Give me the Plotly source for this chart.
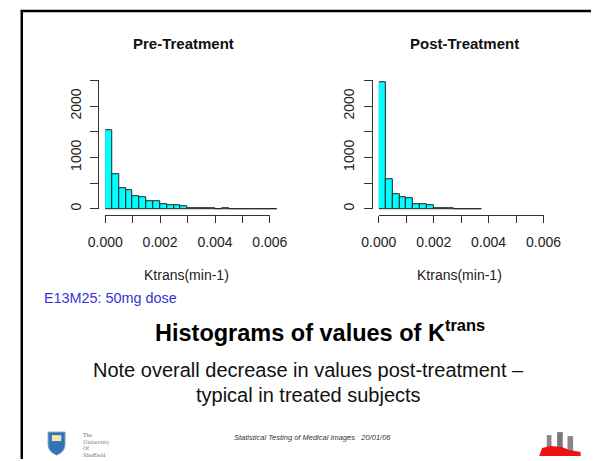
import plotly.graph_objects as go

# ---------------- data ----------------
BIN_WIDTH = 0.00025
pre_counts = [1530, 678, 397, 352, 248, 221, 156, 150, 91, 72, 65, 52,
              15, 12, 3, 2, 0, 15, 0, 0, 0, 0, 0, 0, 0]
post_counts = [2456, 567, 287, 221, 202, 91, 91, 72, 4, 2, 15, 0, 0, 0, 0]
panel_titles = ["Pre-Treatment", "Post-Treatment"]
x_label = "Ktrans(min-1)"
x_tick_vals = [0.000, 0.002, 0.004, 0.006]
x_tick_text = ["0.000", "0.002", "0.004", "0.006"]
x_minor_step = 0.001
y_tick_vals = [0, 1000, 2000]
y_tick_text = ["0", "1000", "2000"]
y_minor_step = 500
X_MAX, Y_MAX = 0.006, 2500
dose_note = "E13M25: 50mg dose"
main_title = "Histograms of values of K<sup>trans</sup>"
note_lines = ["Note overall decrease in values post-treatment –", "typical in treated subjects"]
footer = "Statistical Testing of Medical Images\u00a0\u00a0\u00a020/01/06"

# ---------------- geometry (pixels) ----------------
W, H = 609, 461
FONT = "Liberation Sans, Arial, Helvetica, sans-serif"
AX_COL = "#333333"


def px(x):
    return x / W


def py(y):
    return 1 - y / H


X_PER_UNIT = 29.17 / 0.001     # px per Ktrans unit
Y_PER_UNIT = 129.0 / 2500      # px per count
Y0_PX = 209.7                  # pixel row of count 0
X_AXIS_PX = 215.6              # pixel row of the offset x axis line
X_EPS, Y_EPS = 0.0000001, 0.5
panels = [
    dict(counts=pre_counts, x0=92.7, yaxis_px=85.5, title=panel_titles[0], tx=120, tanchor="left", lx=179),
    dict(counts=post_counts, x0=383.5, yaxis_px=376.2, title=panel_titles[1], tx=535, tanchor="right", lx=469),
]

fig = go.Figure()
layout = dict(
    width=W, height=H, margin=dict(l=0, r=0, t=0, b=0),
    paper_bgcolor="white", plot_bgcolor="rgba(0,0,0,0)",
    showlegend=False, font=dict(family=FONT, color="#222222"),
    bargap=0,
)
annotations = []
DATA_X_MAX = 0.0065
DATA_Y_MIN, DATA_Y_MAX = -30, 2600

for i, p in enumerate(panels):
    n = len(p["counts"])
    centers = [BIN_WIDTH * (k + 0.5) for k in range(n)]
    a_data, a_disp = 2 * i + 1, 2 * i + 2
    xd = "x" if a_data == 1 else f"x{a_data}"
    yd = "y" if a_data == 1 else f"y{a_data}"
    xs, ys = f"x{a_disp}", f"y{a_disp}"
    fig.add_trace(go.Bar(
        x=centers, y=p["counts"], width=[BIN_WIDTH] * n,
        marker=dict(color="#00FFFF", line=dict(color="#222222", width=1)),
        xaxis=xd, yaxis=yd, hoverinfo="x+y",
    ))
    # empty trace so the R-style display axes are drawn
    fig.add_trace(go.Scatter(x=[], y=[], xaxis=xs, yaxis=ys, mode="markers",
                             hoverinfo="skip", showlegend=False))
    kx = "xaxis" if a_data == 1 else f"xaxis{a_data}"
    ky = "yaxis" if a_data == 1 else f"yaxis{a_data}"
    layout[kx] = dict(
        domain=[px(p["x0"]), px(p["x0"] + DATA_X_MAX * X_PER_UNIT)],
        range=[0, DATA_X_MAX], visible=False, anchor=yd, fixedrange=True,
    )
    layout[ky] = dict(
        domain=[py(Y0_PX - DATA_Y_MIN * Y_PER_UNIT), py(Y0_PX - DATA_Y_MAX * Y_PER_UNIT)],
        range=[DATA_Y_MIN, DATA_Y_MAX], visible=False, anchor=xd, fixedrange=True,
    )
    layout[f"xaxis{a_disp}"] = dict(
        domain=[px(p["x0"]), px(p["x0"] + (X_MAX + X_EPS) * X_PER_UNIT)],
        range=[0, X_MAX + X_EPS], anchor="free", position=py(X_AXIS_PX),
        showline=True, linecolor=AX_COL, linewidth=1, showgrid=False, zeroline=False,
        ticks="outside", ticklen=7, tickcolor=AX_COL, tickwidth=1,
        tickvals=x_tick_vals, ticktext=x_tick_text,
        minor=dict(ticks="outside", ticklen=7, tickcolor=AX_COL, tickwidth=1,
                   tick0=0, dtick=x_minor_step, showgrid=False),
        tickfont=dict(family=FONT, size=14, color="#222222"), ticklabelstandoff=8,
        fixedrange=True,
    )
    layout[f"yaxis{a_disp}"] = dict(
        domain=[py(Y0_PX), py(Y0_PX - (Y_MAX + Y_EPS) * Y_PER_UNIT)],
        range=[0, Y_MAX + Y_EPS], anchor="free", position=px(p["yaxis_px"]),
        showline=True, linecolor=AX_COL, linewidth=1, showgrid=False, zeroline=False,
        ticks="outside", ticklen=8, tickcolor=AX_COL, tickwidth=1,
        tickvals=y_tick_vals, ticktext=y_tick_text, tickangle=-90,
        minor=dict(ticks="outside", ticklen=8, tickcolor=AX_COL, tickwidth=1,
                   tick0=0, dtick=y_minor_step, showgrid=False),
        tickfont=dict(family=FONT, size=14, color="#222222"), ticklabelstandoff=4,
        fixedrange=True,
    )
    annotations.append(dict(
        text=f"<b>{p['title']}</b>", x=px(p["tx"]), y=py(44), xref="paper", yref="paper",
        xanchor=p["tanchor"], yanchor="middle", showarrow=False,
        font=dict(family=FONT, size=15, color="#111111"),
    ))
    annotations.append(dict(
        text=x_label, x=px(p["lx"]), y=py(276), xref="paper", yref="paper",
        xanchor="center", yanchor="middle", showarrow=False,
        font=dict(family=FONT, size=14, color="#222222"),
    ))

annotations += [
    dict(text=dose_note, x=px(25), y=py(299), xref="paper", yref="paper",
         xanchor="left", yanchor="middle", showarrow=False,
         font=dict(family=FONT, size=14.4, color="#3535D8")),
    dict(text=f"<b>{main_title}</b>", x=px(143), y=py(332), xref="paper", yref="paper",
         xanchor="left", yanchor="middle", showarrow=False,
         font=dict(family=FONT, size=23.5, color="#000000")),
    dict(text=note_lines[0], x=px(309), y=py(372), xref="paper", yref="paper",
         xanchor="center", yanchor="middle", showarrow=False,
         font=dict(family=FONT, size=20, color="#111111")),
    dict(text=note_lines[1], x=px(309), y=py(397), xref="paper", yref="paper",
         xanchor="center", yanchor="middle", showarrow=False,
         font=dict(family=FONT, size=20, color="#111111")),
    dict(text=f"<i>{footer}</i>", x=px(313), y=py(439), xref="paper", yref="paper",
         xanchor="center", yanchor="middle", showarrow=False,
         font=dict(family=FONT, size=7.5, color="#333333")),
    dict(text="The<br>University<br>Of<br>Sheffield", x=px(67), y=py(447), xref="paper", yref="paper",
         xanchor="left", yanchor="middle", showarrow=False, align="left",
         font=dict(family="DejaVu Serif, serif", size=5, color="#666677")),
]

shapes = [
    # slide frame (left and top edges)
    dict(type="path", xref="paper", yref="paper",
         path=f"M {px(4)} 0 L {px(4)} {py(11)} L 1 {py(11)}",
         line=dict(color="#000000", width=2.5)),
    # Sheffield shield
    dict(type="path", xref="paper", yref="paper",
         path=f"M {px(32)} {py(434)} L {px(50)} {py(434)} L {px(50)} {py(446)} "
              f"Q {px(50)} {py(454)} {px(41)} {py(457)} Q {px(32)} {py(454)} {px(32)} {py(446)} Z",
         fillcolor="#2f74b8", line=dict(color="#7aa0c8", width=1)),
    dict(type="rect", xref="paper", yref="paper",
         x0=px(36), x1=px(46), y0=py(443), y1=py(437),
         fillcolor="#f2e6a0", line=dict(width=0)),
    # right logo
    dict(type="rect", xref="paper", yref="paper", x0=px(562), x1=px(567), y0=py(452), y1=py(437),
         fillcolor="#888888", line=dict(width=0)),
    dict(type="rect", xref="paper", yref="paper", x0=px(573), x1=px(579), y0=py(452), y1=py(434),
         fillcolor="#777777", line=dict(width=0)),
    dict(type="rect", xref="paper", yref="paper", x0=px(584), x1=px(590), y0=py(454), y1=py(438),
         fillcolor="#888888", line=dict(width=0)),
    dict(type="path", xref="paper", yref="paper",
         path=f"M {px(554)} {py(458)} L {px(557)} {py(450)} L {px(566)} {py(448)} L {px(578)} {py(449)} "
              f"L {px(586)} {py(452)} L {px(598)} {py(454)} L {px(598)} {py(458)} Z",
         fillcolor="#ee1111", line=dict(width=0)),
]

layout["annotations"] = annotations
layout["shapes"] = shapes
fig.update_layout(**layout)
fig.write_html("out.html", config={"displayModeBar": False},
               post_script="document.body.style.margin='0';document.body.style.overflow='hidden';")
